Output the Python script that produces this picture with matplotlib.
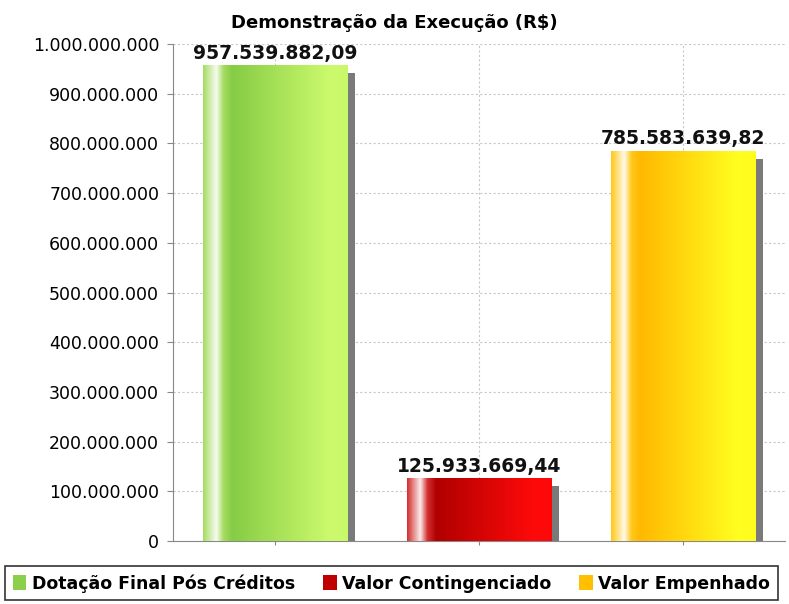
import numpy as np
import matplotlib.pyplot as plt
from matplotlib.patches import Patch, Rectangle
from matplotlib.ticker import FuncFormatter

plt.rcParams['font.family'] = ['DejaVu Sans']

# data
categories = ['Dotação Final Pós Créditos', 'Valor Contingenciado', 'Valor Empenhado']
values = [957539882.09, 125933669.44, 785583639.82]
labels = ['957.539.882,09', '125.933.669,44', '785.583.639,82']
yticks = np.arange(0, 1000000001, 100000000)

# colours: (left, dark, light) for the gradient
grad = [
    ('#a6dc62', '#86cc45', '#ccfa6c'),
    ('#d43030', '#b00000', '#ff0a0a'),
    ('#ffc81a', '#ffb800', '#ffff20'),
]
legend_colors = ['#8ccf4a', '#c00000', '#ffc000']


def hex2rgb(h):
    h = h.lstrip('#')
    return np.array([int(h[i:i + 2], 16) / 255 for i in (0, 2, 4)])


def bar_gradient(c_left, c_dark, c_light, n=200):
    t = np.linspace(0, 1, n)
    a, d, l = hex2rgb(c_left), hex2rgb(c_dark), hex2rgb(c_light)
    w = np.ones(3)
    stops = [0.0, 0.05, 0.09, 0.14, 0.20, 0.88, 1.0]
    cols = [a, a * 0.5 + w * 0.5, w * 0.9 + a * 0.1, a, d, l, l * 0.95 + d * 0.05]
    out = np.zeros((n, 3))
    for k in range(3):
        out[:, k] = np.interp(t, stops, [c[k] for c in cols])
    return out[np.newaxis, :, :]


fig = plt.figure(figsize=(7.89, 6.04), dpi=100)
ax = fig.add_axes([0.2193, 0.1043, 0.7756, 0.8227])

width = 0.71
x = np.arange(len(categories))
for i, v in enumerate(values):
    # shadow
    ax.add_patch(Rectangle((x[i] - width / 2 + 0.035, 0), width, v - 16000000,
                           facecolor='#7a7a7a', edgecolor='none', zorder=2))
    bars = ax.bar(x[i], v, width=width, color='none', zorder=3)
    rect = bars[0]
    img = ax.imshow(bar_gradient(*grad[i]), aspect='auto', zorder=3,
                    extent=(x[i] - width / 2, x[i] + width / 2, 0, v))
    img.set_clip_path(rect)
    ax.text(x[i], v + 5000000, labels[i], ha='center', va='bottom',
            fontsize=13.5, fontweight='bold', color='#111111', zorder=5)

ax.set_xlim(-0.5, 2.5)
ax.set_ylim(0, 1000000000)
ax.set_yticks(yticks)
ax.yaxis.set_major_formatter(FuncFormatter(lambda v, p: f'{int(v):,}'.replace(',', '.')))
ax.set_xticks(x)
ax.set_xticklabels([])
ax.tick_params(axis='y', labelsize=12.5, length=4, color='#888888', pad=6)
ax.tick_params(axis='x', length=3, color='#888888')
ax.grid(True, color='#c8c8c8', linestyle=(0, (2, 2)), linewidth=0.8, zorder=0)
ax.set_axisbelow(True)
for s in ['top', 'right']:
    ax.spines[s].set_visible(False)
for s in ['left', 'bottom']:
    ax.spines[s].set_color('#888888')

fig.text(0.5, 0.962, 'Demonstração da Execução (R$)', ha='center', va='center',
         fontsize=13, fontweight='bold')

handles = [Patch(facecolor=c, edgecolor='none') for c in legend_colors]
leg = fig.legend(handles, categories, loc='lower left', bbox_to_anchor=(0.006, 0.006),
                 borderaxespad=0, ncol=3, frameon=True, fancybox=False, edgecolor='black',
                 handlelength=0.8, handleheight=0.9, handletextpad=0.3,
                 columnspacing=1.6, borderpad=0.45,
                 prop={'size': 12.5, 'weight': 'bold'})
leg.get_frame().set_linewidth(1.2)

fig.savefig('out.png', dpi=100)
